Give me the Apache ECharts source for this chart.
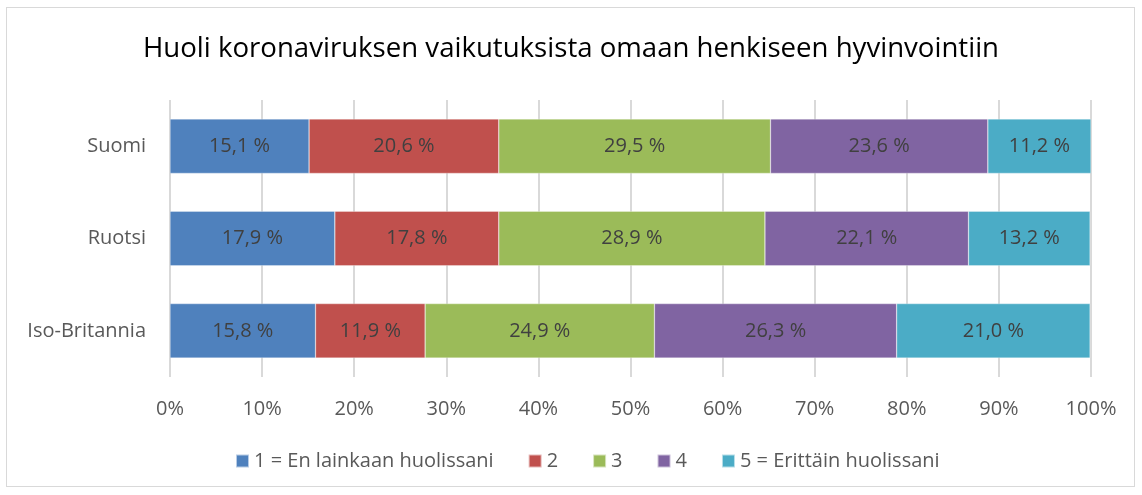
<!DOCTYPE html>
<html><head><meta charset="utf-8">
<script src="https://cdn.jsdelivr.net/npm/echarts@6/dist/echarts.min.js"></script>
<style>html,body{margin:0;padding:0;background:#fff}#c{width:1142px;height:495px}
#frame{position:absolute;left:6px;top:7px;width:1129px;height:480px;border:1px solid #d9d9d9;box-sizing:border-box;pointer-events:none}</style>
</head><body><div id="c"></div><div id="frame"></div>
<script>
const title = 'Huoli koronaviruksen vaikutuksista omaan henkiseen hyvinvointiin';
const categories = ['Suomi', 'Ruotsi', 'Iso-Britannia'];
const seriesNames = ['1 = En lainkaan huolissani', '2', '3', '4', '5 = Erittäin huolissani'];
const s1 = [15.1, 17.9, 15.8];
const s2 = [20.6, 17.8, 11.9];
const s3 = [29.5, 28.9, 24.9];
const s4 = [23.6, 22.1, 26.3];
const s5 = [11.2, 13.2, 21.0];
const colors = ['#4F81BD', '#C0504D', '#9BBB59', '#8064A2', '#4BACC6'];
const font = 'Open Sans, Noto Sans, sans-serif';
const data = [s1, s2, s3, s4, s5];
const chart = echarts.init(document.getElementById('c'));
chart.setOption({
  animation: false,
  title: {text: title, left: 'center', top: 30, textStyle: {fontFamily: font, fontSize: 27.6, fontWeight: 'normal', color: '#000'}},
  legend: {bottom: 19, left: 230, itemWidth: 13, itemHeight: 13, itemGap: 34, icon: 'rect',
    textStyle: {fontFamily: font, fontSize: 20, color: '#595959'}},
  grid: {left: 170, right: 51, top: 100, bottom: 118, containLabel: false},
  xAxis: {type: 'value', min: 0, max: 100, interval: 10,
    axisLabel: {formatter: '{value}%', fontFamily: font, fontSize: 20, color: '#595959', margin: 22},
    splitLine: {lineStyle: {color: '#d9d9d9', width: 2}}, axisLine: {show: false}, axisTick: {show: false}},
  yAxis: {type: 'category', data: categories, inverse: true,
    axisLabel: {fontFamily: font, fontSize: 20, color: '#595959', margin: 24},
    axisLine: {show: false}, axisTick: {show: false}},
  series: seriesNames.map((n, i) => ({
    name: n, type: 'bar', stack: 'total', barWidth: '59%',
    itemStyle: {color: colors[i], borderColor: 'rgba(255,255,255,0.6)', borderWidth: 0.5},
    label: {show: true, position: 'inside', fontFamily: font, fontSize: 20, color: '#404040',
      formatter: p => p.value.toFixed(1).replace('.', ',') + ' %'},
    data: data[i]
  }))
});
</script></body></html>
